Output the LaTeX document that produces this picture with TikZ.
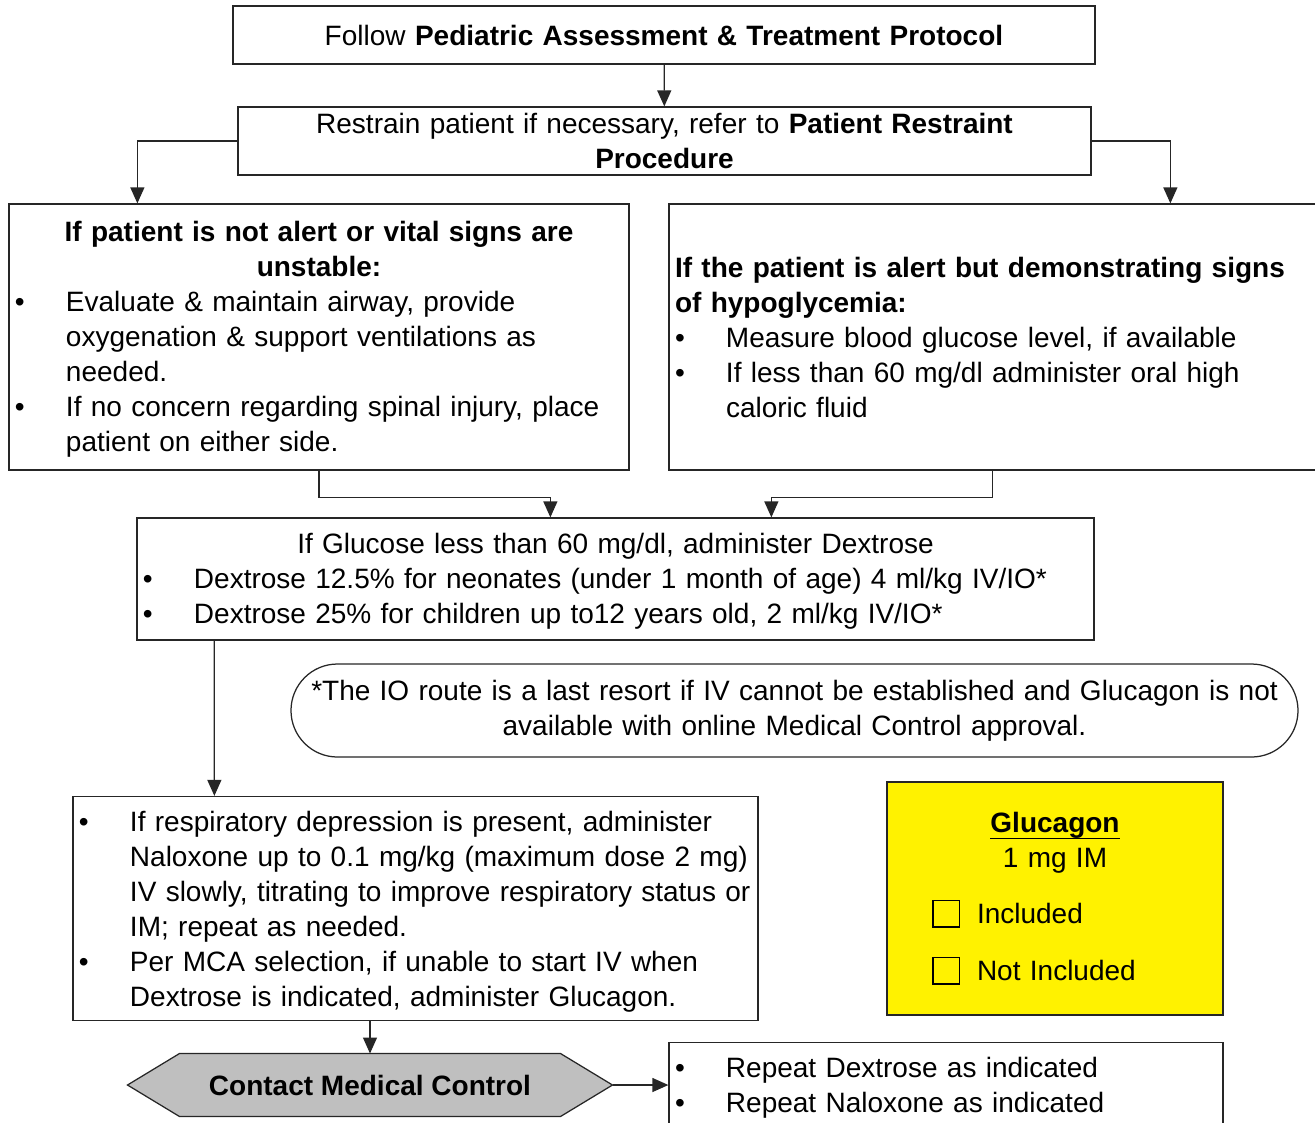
\documentclass[tikz,border=0pt]{standalone}
\usepackage{fontspec}
\setmainfont{Liberation Sans}
\usetikzlibrary{arrows.meta,calc,positioning,backgrounds}

% bullet line with hanging indent
\newcommand{\bitem}{\par\noindent\hangindent=20.4pt\hangafter=1\makebox[20.4pt][l]{\textbullet}}
% empty check box
\newcommand{\cbox}{\raisebox{-1.2pt}{\setlength{\fboxsep}{0pt}\setlength{\fboxrule}{0.6pt}\fbox{\rule{0pt}{10pt}\hspace{10pt}}}}

\begin{document}
\begin{tikzpicture}[
  x=0.4pt, y=-0.4pt,
  font=\fontsize{11.2}{14}\selectfont,
  box/.style={draw=black!85, line width=0.5pt, rectangle, inner xsep=2.4pt, inner ysep=0pt, fill=white},
  flow/.style={-{Triangle[length=6.4pt,width=5.6pt]}, line width=0.5pt, black!85},
  hexshape/.style={draw=black!85, line width=0.5pt, fill=black!25}
]
\useasboundingbox (0,0) rectangle (1315,1122);
\clip (0,0) rectangle (1315,1122);

% Top of the protocol
\node[box, text width=340pt, minimum height=23.2pt, align=center] (top) at (664,35)
  {Follow \textbf{Pediatric Assessment \& Treatment Protocol}};
\node[box, text width=336.4pt, minimum height=27.2pt, align=center] (restrain) at (664.5,141)
  {Restrain patient if necessary, refer to \textbf{Patient Restraint}\\\textbf{Procedure}};

% Two branches
\node[box, text width=243.2pt, minimum height=106.4pt, align=left] (lbox) at (319,337)
  {{\centering\bfseries\rule{0pt}{10.2pt}If patient is not alert or vital signs are\\unstable:\par}
   \bitem Evaluate \& maintain airway, provide\newline oxygenation \& support ventilations as\newline needed.
   \bitem If no concern regarding spinal injury, place\newline patient on either side.\par};
\node[box, text width=266pt, minimum height=106.4pt, align=left] (rbox) at (1007.5,337)
  {\textbf{If the patient is alert but demonstrating signs\newline of hypoglycemia:}
   \bitem Measure blood glucose level, if available
   \bitem If less than 60 mg/dl administer oral high\newline caloric fluid\par};

% Dextrose
\node[box, text width=378pt, minimum height=48.8pt, align=left] (gbox) at (615.5,579)
  {{\centering\rule{0pt}{9.8pt}If Glucose less than 60 mg/dl, administer Dextrose\par}
   \bitem Dextrose 12.5\% for neonates (under 1 month of age) 4 ml/kg IV/IO*
   \bitem Dextrose 25\% for children up to12 years old, 2 ml/kg IV/IO*\par};

% IO note
\node[box, text width=398pt, minimum height=37.2pt, rounded corners=18.6pt, align=center] (ionote) at (794.5,710.5)
  {*The IO route is a last resort if IV cannot be established and Glucagon is not\\available with online Medical Control approval.};

% Naloxone
\node[box, text width=269.2pt, minimum height=89.2pt, align=left] (nbox) at (415.5,908.5)
  {\bitem If respiratory depression is present, administer\newline Naloxone up to 0.1 mg/kg (maximum dose 2 mg)\newline IV slowly, titrating to improve respiratory status or\newline IM; repeat as needed.
   \bitem Per MCA selection, if unable to start IV when\newline Dextrose is indicated, administer Glucagon.\rule[-5.6pt]{0pt}{0pt}\par};

% Glucagon option
\node[box, fill=yellow, inner xsep=0pt, text width=134.4pt, minimum height=93.2pt, align=left] (glucagon) at (1055,898.5)
  {{\centering\underline{\raisebox{0pt}[\height][1.2pt]{\textbf{Glucagon}}}\\1 mg IM\par}
   \vspace{8.4pt}
   \noindent\hspace*{18pt}\cbox\hspace{6.8pt}Included\par
   \vspace{8.8pt}
   \noindent\hspace*{18pt}\cbox\hspace{6.8pt}Not Included};

% Medical control
\node[minimum width=193.6pt, minimum height=24.8pt, inner sep=0pt, font=\fontsize{11.2}{14}\selectfont\bfseries] (contact) at (370,1085)
  {Contact Medical Control};
\begin{scope}[on background layer]
\draw[hexshape] (contact.west) -- ($(contact.north west)+(52,0)$) -- ($(contact.north east)+(-52,0)$)
  -- (contact.east) -- ($(contact.south east)+(-52,0)$) -- ($(contact.south west)+(52,0)$) -- cycle;
\end{scope}
\node[box, text width=216.8pt, minimum height=32pt, align=left] (rep) at (946,1085)
  {\bitem Repeat Dextrose as indicated
   \bitem Repeat Naloxone as indicated\rule[-6pt]{0pt}{0pt}\par};

% Connectors
\draw[flow] (top) -- (restrain);
\draw[flow] (restrain.west) -| ($(lbox.north west)+(129,0)$);
\draw[flow] (restrain.east) -| ($(rbox.north west)+(502,0)$);
\draw[flow] (lbox.south) -- ++(0,27) -| ($(gbox.north west)+(414,0)$);
\draw[flow] ($(rbox.south west)+(324,0)$) -- ++(0,27) -| ($(gbox.north west)+(635,0)$);
\draw[flow] ($(gbox.south west)+(78,0)$) -- ($(nbox.north west)+(142,0)$);
\draw[flow] (contact.north |- nbox.south) -- (contact.north);
\draw[flow] (contact.east) -- (rep.west);
\end{tikzpicture}
\end{document}
